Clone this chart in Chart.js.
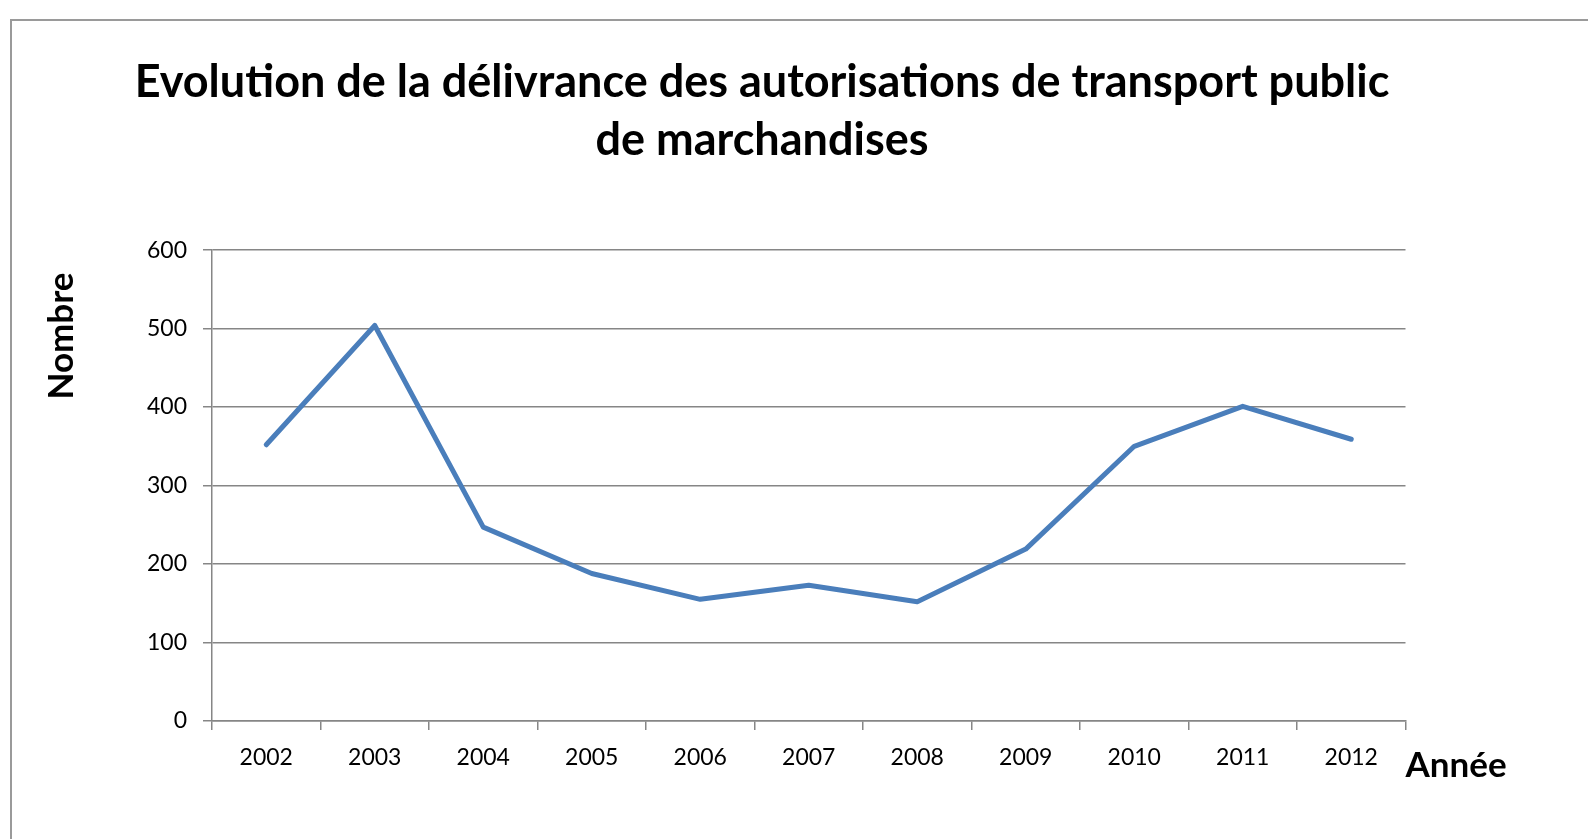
<!DOCTYPE html>
<html lang="fr">
<head>
<meta charset="utf-8">
<title>Evolution de la délivrance des autorisations de transport public de marchandises</title>
<script src="https://cdn.jsdelivr.net/npm/chart.js@4.4.1/dist/chart.umd.min.js"></script>
<style>
  html, body { margin: 0; padding: 0; background: #fff; overflow: hidden; }
  body { width: 1588px; height: 839px; position: relative; }
  #frame {
    position: absolute; left: 10px; top: 19px;
    width: 1640px; height: 900px;
    border: 2px solid #9a9a9a; box-sizing: border-box;
  }
  #chart { position: absolute; left: 0; top: 0; }
</style>
</head>
<body>
<div id="frame"></div>
<canvas id="chart" width="1588" height="839"></canvas>
<script>
// ----------------- Data -----------------
const years = ['2002', '2003', '2004', '2005', '2006', '2007', '2008', '2009', '2010', '2011', '2012'];
const nombre = [352, 504, 247, 188, 155, 173, 152, 219, 350, 401, 359];
const yTicks = [0, 100, 200, 300, 400, 500, 600];

const titleLines = ['Evolution de la délivrance des autorisations de transport public', 'de marchandises'];
const yTitle = 'Nombre';
const xTitle = 'Année';

const gridColor = '#868686';
const lineColor = '#4a7ebb';

// axis titles sit outside the usual Chart.js spots, so draw them by hand
const axisTitles = {
  id: 'axisTitles',
  afterDraw(chart) {
    const ctx = chart.ctx;
    ctx.save();
    ctx.fillStyle = '#000';
    ctx.font = 'bold 35px Lato';
    ctx.textBaseline = 'alphabetic';

    ctx.textAlign = 'left';
    ctx.fillText(xTitle, chart.chartArea.right, 777);

    ctx.translate(73, 336);
    ctx.rotate(-Math.PI / 2);
    ctx.textAlign = 'center';
    ctx.fillText(yTitle, 0, 0);
    ctx.restore();
  }
};

const ctx = document.getElementById('chart').getContext('2d');

new Chart(ctx, {
  type: 'line',
  data: {
    labels: years,
    datasets: [{
      label: yTitle,
      data: nombre,
      borderColor: lineColor,
      backgroundColor: lineColor,
      borderWidth: 5,
      borderCapStyle: 'round',
      borderJoinStyle: 'round',
      pointRadius: 0,
      tension: 0,
      fill: false
    }]
  },
  options: {
    responsive: false,
    animation: false,
    devicePixelRatio: 1,
    layout: { padding: { left: 118.5, right: 182.5, top: 0, bottom: 0 } },
    plugins: {
      legend: { display: false },
      tooltip: { enabled: false },
      title: {
        display: true,
        text: titleLines,
        color: '#000',
        font: { family: 'Lato', size: 45, weight: 'bold', lineHeight: '58.3px' },
        padding: { top: 53.5, bottom: 80 }
      }
    },
    scales: {
      x: {
        offset: true,
        grid: {
          offset: true,
          drawOnChartArea: false,
          drawTicks: true,
          tickLength: 9,
          color: gridColor,
          lineWidth: 1.5
        },
        border: { color: gridColor, width: 1.5 },
        ticks: {
          color: '#000',
          padding: 14,
          maxRotation: 0,
          autoSkip: false,
          font: { family: 'Lato', size: 23 }
        },
        afterFit(scale) { scale.height = 118; }
      },
      y: {
        min: 0,
        max: 600,
        afterBuildTicks(scale) { scale.ticks = yTicks.map(v => ({ value: v })); },
        grid: {
          drawTicks: true,
          tickLength: 9,
          color: gridColor,
          lineWidth: 1.5
        },
        border: { color: gridColor, width: 1.5 },
        ticks: {
          color: '#000',
          padding: 16,
          font: { family: 'Lato', size: 23 }
        },
        afterFit(scale) { scale.width = 93.5; }
      }
    }
  },
  plugins: [axisTitles]
});
</script>
</body>
</html>
